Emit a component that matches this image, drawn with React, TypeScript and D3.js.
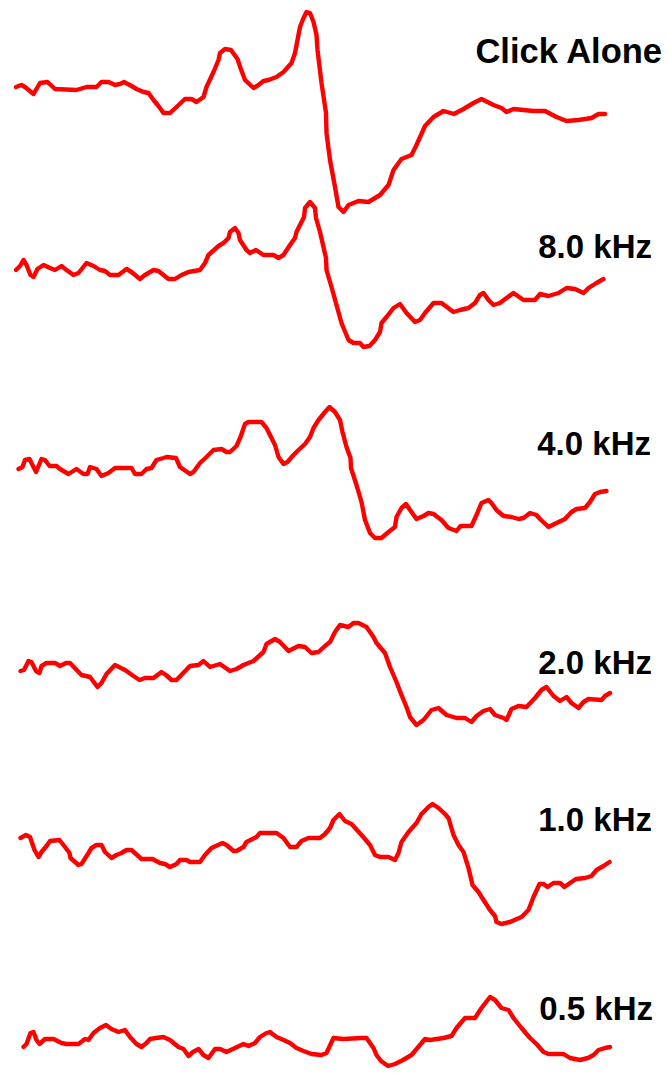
import React from "react";
import * as d3 from "d3";

// Each trace: [time (ms), amplitude (arbitrary µV units)]
const clickAlone: [number, number][] = [
  [0.0, 0.1], [0.11, 0.3], [0.18, 0.1], [0.35, -0.6], [0.48, 0.5], [0.63, 0.6], [0.78, -0.1], [1.21, -0.2],
  [1.41, 0.1], [1.61, 0.1], [1.71, 0.6], [1.85, 0.6], [1.98, 0.3], [2.08, 0.4], [2.16, 0.6], [2.31, 0.2],
  [2.41, -0.1], [2.55, -0.4], [2.65, -0.5], [2.75, -1.2], [2.85, -1.8], [2.95, -2.5], [3.08, -2.5], [3.21, -1.9],
  [3.38, -1.1], [3.51, -1.1], [3.61, -1.4], [3.75, -0.9], [3.81, 0.1], [3.95, 1.6], [4.05, 2.8], [4.08, 3.5],
  [4.18, 3.9], [4.3, 3.8], [4.43, 2.9], [4.49, 2.0], [4.58, 0.8], [4.75, 0.0], [4.85, 0.3], [4.95, 0.7],
  [5.05, 0.8], [5.21, 1.1], [5.35, 1.6], [5.51, 2.5], [5.58, 3.5], [5.68, 6.1], [5.75, 7.0], [5.81, 7.6],
  [5.88, 7.5], [5.95, 6.6], [6.01, 5.3], [6.03, 3.8], [6.11, 0.5], [6.2, -2.5], [6.21, -4.5], [6.28, -7.2],
  [6.38, -9.9], [6.45, -11.9], [6.55, -12.4], [6.65, -11.7], [6.85, -11.3], [7.05, -11.4], [7.28, -10.7],
  [7.45, -9.7], [7.55, -8.2], [7.71, -7.1], [7.91, -6.7], [8.01, -5.7], [8.18, -3.8], [8.35, -2.9], [8.55, -2.3],
  [8.76, -2.6], [8.95, -2.1], [9.15, -1.5], [9.31, -1.1], [9.55, -1.7], [9.71, -2.0], [9.81, -2.4], [9.95, -2.1],
  [10.35, -2.3], [10.58, -2.3], [10.81, -2.9], [11.01, -3.3], [11.25, -3.2], [11.51, -3.0], [11.65, -2.6], [11.78, -2.6],
];

const khz8: [number, number][] = [
  [0.0, 0.0], [0.08, 0.4], [0.15, 1.0], [0.21, 0.5], [0.29, -0.5], [0.35, -0.7], [0.43, 0.1], [0.55, 0.5],
  [0.68, 0.2], [0.78, 0.0], [0.91, 0.4], [1.01, 0.0], [1.15, -0.5], [1.25, -0.3], [1.41, 0.7], [1.55, 0.4],
  [1.68, 0.0], [1.78, -0.1], [1.88, -0.5], [2.05, -0.5], [2.21, 0.1], [2.31, -0.2], [2.48, -0.9], [2.58, -0.5],
  [2.75, 0.0], [2.85, -0.1], [3.05, -0.9], [3.18, -0.9], [3.31, -0.5], [3.45, -0.2], [3.68, 0.0], [3.78, 0.7],
  [3.85, 1.5], [4.05, 2.4], [4.15, 2.7], [4.25, 3.2], [4.28, 3.8], [4.38, 4.2], [4.45, 3.7], [4.48, 3.0],
  [4.61, 2.0], [4.68, 1.7], [4.8, 2.0], [4.95, 1.5], [5.15, 1.5], [5.25, 1.2], [5.35, 1.5], [5.48, 2.5],
  [5.58, 3.2], [5.61, 3.8], [5.76, 5.3], [5.78, 6.2], [5.88, 6.8], [5.98, 6.2], [6.0, 5.2], [6.08, 3.8],
  [6.2, 1.2], [6.21, 0.0], [6.31, -1.7], [6.41, -3.5], [6.51, -5.3], [6.65, -7.0], [6.75, -7.3], [6.88, -7.3],
  [6.95, -7.7], [7.07, -7.6], [7.18, -7.0], [7.28, -6.2], [7.31, -5.3], [7.41, -4.7], [7.55, -3.8], [7.68, -3.4],
  [7.81, -4.3], [7.98, -5.2], [8.08, -5.0], [8.18, -4.3], [8.35, -3.3], [8.51, -3.3], [8.75, -4.2], [8.88, -4.0],
  [9.05, -3.8], [9.18, -3.3], [9.28, -2.5], [9.35, -2.3], [9.45, -3.0], [9.55, -3.5], [9.68, -3.3], [9.81, -2.8],
  [9.95, -2.3], [10.15, -3.0], [10.38, -3.0], [10.48, -2.4], [10.65, -2.6], [10.85, -2.3], [11.01, -1.8],
  [11.18, -1.9], [11.35, -2.3], [11.45, -1.8], [11.61, -1.3], [11.75, -0.9],
];

const khz4: [number, number][] = [
  [0.05, -0.1], [0.13, 0.1], [0.18, 0.8], [0.27, 0.9], [0.4, -0.4], [0.51, 0.9], [0.58, 0.8], [0.67, 0.2],
  [0.81, 0.2], [0.88, -0.1], [1.05, -0.6], [1.21, -0.1], [1.35, -0.6], [1.43, -0.6], [1.48, 0.1], [1.61, -0.1],
  [1.71, -0.8], [1.85, -0.5], [1.98, 0.0], [2.31, 0.0], [2.38, -0.6], [2.51, -0.6], [2.61, -0.1], [2.71, 0.0],
  [2.81, 0.8], [2.95, 1.0], [3.01, 1.1], [3.2, 1.0], [3.28, 0.1], [3.48, -0.6], [3.55, -0.4], [3.68, 0.5],
  [3.81, 1.1], [3.95, 1.8], [4.11, 1.9], [4.21, 1.6], [4.28, 1.6], [4.41, 2.2], [4.49, 3.1], [4.58, 4.4],
  [4.65, 4.6], [4.91, 4.6], [5.01, 4.0], [5.18, 2.3], [5.25, 1.1], [5.35, 0.4], [5.43, 0.6], [5.55, 1.3],
  [5.65, 1.8], [5.78, 2.4], [5.88, 3.1], [5.95, 4.0], [6.05, 4.8], [6.18, 5.6], [6.27, 6.1], [6.38, 5.6],
  [6.48, 4.8], [6.53, 3.6], [6.61, 2.1], [6.69, 1.0], [6.7, 0.0], [6.81, -1.7], [6.91, -3.4], [6.98, -5.2],
  [7.08, -6.5], [7.18, -7.0], [7.31, -7.0], [7.45, -6.4], [7.58, -5.9], [7.61, -4.9], [7.71, -4.0], [7.8, -3.6],
  [7.91, -4.4], [8.01, -5.1], [8.15, -4.8], [8.25, -4.5], [8.35, -4.6], [8.51, -5.2], [8.65, -6.0], [8.81, -6.3],
  [8.89, -5.8], [9.11, -5.8], [9.21, -4.7], [9.31, -3.5], [9.45, -3.2], [9.51, -3.5], [9.61, -4.2], [9.75, -4.8],
  [9.91, -4.9], [10.05, -5.1], [10.15, -5.0], [10.28, -4.5], [10.41, -4.7], [10.48, -5.1], [10.65, -5.9],
  [10.81, -5.5], [10.98, -5.1], [11.11, -4.4], [11.21, -4.1], [11.38, -4.0], [11.48, -3.4], [11.58, -2.6],
  [11.68, -2.4], [11.81, -2.3],
];

const khz2: [number, number][] = [
  [0.09, -0.1], [0.16, 0.0], [0.25, 0.9], [0.31, 0.8], [0.4, -0.1], [0.47, -0.3], [0.51, 0.4], [0.61, 0.7],
  [0.78, 0.7], [0.88, 0.4], [1.0, 0.7], [1.08, 0.7], [1.31, -0.5], [1.48, -0.7], [1.63, -1.7], [1.71, -1.3],
  [1.81, -0.4], [1.98, 0.5], [2.18, 0.0], [2.35, -0.6], [2.47, -1.0], [2.58, -0.8], [2.75, -0.8], [2.91, -0.2],
  [3.0, -0.5], [3.11, -1.0], [3.21, -1.0], [3.48, 0.4], [3.65, 0.5], [3.75, 0.9], [3.88, 0.3], [4.08, 0.6],
  [4.28, -0.1], [4.41, 0.1], [4.55, 0.5], [4.75, 0.9], [4.95, 1.8], [5.01, 2.6], [5.18, 3.1], [5.28, 2.8],
  [5.45, 1.9], [5.65, 2.4], [5.78, 2.3], [5.91, 1.7], [6.05, 1.8], [6.18, 2.4], [6.28, 2.8], [6.38, 3.8],
  [6.48, 4.5], [6.65, 4.3], [6.75, 4.7], [6.85, 4.7], [7.01, 4.3], [7.15, 3.3], [7.21, 2.7], [7.38, 1.7],
  [7.48, 0.3], [7.61, -1.2], [7.71, -2.5], [7.81, -3.7], [7.88, -4.7], [8.01, -5.5], [8.15, -5.0], [8.31, -4.0],
  [8.45, -3.8], [8.61, -4.5], [8.81, -4.8], [8.98, -4.8], [9.11, -5.2], [9.21, -4.6], [9.35, -4.1], [9.48, -3.9],
  [9.58, -4.5], [9.75, -4.8], [9.81, -5.0], [9.91, -3.9], [10.05, -3.6], [10.21, -3.7], [10.38, -2.8],
  [10.51, -2.0], [10.61, -1.7], [10.75, -2.6], [10.88, -3.1], [11.01, -2.7], [11.11, -3.3], [11.25, -3.8],
  [11.35, -3.2], [11.45, -2.9], [11.71, -3.0], [11.78, -2.6], [11.88, -2.3],
];

const khz1: [number, number][] = [
  [0.09, 0.2], [0.2, 0.5], [0.28, 0.3], [0.37, -1.0], [0.45, -1.7], [0.51, -1.2], [0.61, -0.6], [0.68, -0.1],
  [0.87, 0.0], [0.98, -0.7], [1.07, -1.3], [1.09, -1.8], [1.25, -2.5], [1.31, -2.4], [1.45, -1.3], [1.51, -0.8],
  [1.61, -0.5], [1.71, -0.5], [1.78, -1.2], [1.91, -1.8], [2.01, -1.5], [2.11, -1.3], [2.21, -1.0], [2.31, -1.0],
  [2.51, -1.9], [2.73, -1.9], [2.88, -2.3], [2.98, -2.4], [3.08, -2.7], [3.21, -2.4], [3.28, -2.0], [3.41, -2.0],
  [3.48, -2.2], [3.68, -2.2], [3.78, -1.5], [3.91, -0.8], [4.13, -0.3], [4.21, -0.5], [4.35, -1.1], [4.41, -1.1],
  [4.55, -0.7], [4.61, -0.2], [4.81, 0.3], [4.88, 0.7], [5.21, 0.7], [5.35, 0.2], [5.45, -0.5], [5.48, -0.7],
  [5.61, -0.7], [5.71, -0.1], [5.85, 0.2], [6.08, 0.2], [6.18, 0.6], [6.28, 1.2], [6.35, 2.0], [6.47, 2.6],
  [6.58, 1.9], [6.71, 1.6], [6.91, 0.5], [7.08, -0.5], [7.18, -1.5], [7.28, -1.7], [7.45, -1.7], [7.58, -2.0],
  [7.65, -1.3], [7.71, -0.2], [7.85, 0.8], [8.01, 1.7], [8.11, 2.6], [8.25, 3.3], [8.33, 3.6], [8.45, 3.2],
  [8.58, 2.6], [8.65, 2.2], [8.75, 0.5], [8.85, -0.5], [8.95, -1.2], [9.05, -2.8], [9.13, -4.5], [9.25, -5.2],
  [9.35, -6.0], [9.48, -7.0], [9.58, -7.6], [9.61, -8.2], [9.71, -8.4], [9.88, -8.2], [10.11, -7.7], [10.25, -7.0],
  [10.35, -5.7], [10.47, -4.4], [10.55, -4.4], [10.63, -4.7], [10.75, -4.3], [10.88, -4.3], [10.97, -4.7],
  [11.08, -4.3], [11.2, -3.9], [11.38, -3.8], [11.51, -3.6], [11.61, -3.0], [11.75, -2.6], [11.87, -2.2],
];

const khz05: [number, number][] = [
  [0.15, -0.7], [0.21, -0.4], [0.29, 0.7], [0.35, 0.8], [0.41, 0.0], [0.47, -0.4], [0.58, 0.1], [0.75, 0.1],
  [0.91, -0.3], [1.01, -0.4], [1.25, -0.4], [1.38, 0.1], [1.45, 0.0], [1.55, 0.7], [1.68, 1.2], [1.8, 1.5],
  [1.91, 1.1], [2.05, 0.8], [2.18, 1.0], [2.28, 0.3], [2.41, -0.4], [2.51, -0.7], [2.61, -0.3], [2.68, 0.1],
  [2.8, 0.2], [2.95, 0.3], [3.08, 0.0], [3.25, -0.7], [3.35, -0.9], [3.45, -1.6], [3.54, -1.2], [3.65, -0.9],
  [3.75, -1.5], [3.85, -1.8], [3.98, -0.9], [4.08, -0.9], [4.21, -1.2], [4.38, -0.8], [4.55, -0.4], [4.65, -0.6],
  [4.78, -0.3], [4.88, 0.3], [5.01, 0.7], [5.08, 0.8], [5.21, 0.3], [5.35, 0.0], [5.48, -0.3], [5.61, -0.8],
  [5.75, -1.1], [5.91, -1.4], [6.11, -1.5], [6.21, -1.3], [6.35, 0.2], [6.55, 0.1], [6.91, 0.2], [7.01, 0.2],
  [7.15, -0.8], [7.21, -1.5], [7.3, -2.1], [7.44, -2.6], [7.58, -2.4], [7.74, -2.0], [7.91, -1.5], [8.08, -0.5],
  [8.18, 0.1], [8.28, 0.0], [8.55, 0.2], [8.71, 0.4], [8.81, 1.2], [8.98, 2.2], [9.18, 2.2], [9.31, 3.2],
  [9.48, 4.3], [9.58, 4.0], [9.71, 3.2], [9.85, 3.0], [9.95, 2.2], [10.11, 1.2], [10.28, 0.2], [10.41, -0.4],
  [10.55, -1.2], [10.65, -1.4], [10.95, -1.4], [11.08, -1.8], [11.28, -2.0], [11.44, -1.8], [11.55, -1.5],
  [11.65, -1.0], [11.78, -0.8], [11.88, -0.7],
];

const traceLabels = ["Click Alone", "8.0 kHz", "4.0 kHz", "2.0 kHz", "1.0 kHz", "0.5 kHz"];
const traces = [clickAlone, khz8, khz4, khz2, khz1, khz05];

// layout (pixels)
const W = 669;
const H = 1073;
const baselines = [88, 270, 468, 670, 840, 1040];
const labelX = [662, 652, 651, 652, 652, 653];
const labelY = [63, 258, 455, 674, 831, 1020];
const labelSize = [34.5, 33, 33, 33, 33, 33];

export default function App() {
  const x = d3.scaleLinear().domain([0, 12]).range([16, 616]);
  const amp = d3.scaleLinear().domain([0, 1]).range([0, -10]);
  const line = d3
    .line<[number, number]>()
    .x((d) => x(d[0]))
    .y((d) => amp(d[1]))
    .curve(d3.curveLinear);

  return (
    <svg
      width={W}
      height={H}
      viewBox={`0 0 ${W} ${H}`}
      style={{ position: "absolute", left: 0, top: 0, background: "#fff" }}
    >
      {traces.map((tr, i) => (
        <g key={i} transform={`translate(0,${baselines[i]})`}>
          <path
            d={line(tr) || ""}
            fill="none"
            stroke="#ff0000"
            strokeWidth={4.4}
            strokeLinejoin="round"
            strokeLinecap="round"
          />
        </g>
      ))}
      {traceLabels.map((t, i) => (
        <text
          key={t}
          x={labelX[i]}
          y={labelY[i]}
          textAnchor="end"
          fontFamily="'Liberation Sans', Arial, sans-serif"
          fontWeight="bold"
          fontSize={labelSize[i]}
          fill="#000"
        >
          {t}
        </text>
      ))}
    </svg>
  );
}
